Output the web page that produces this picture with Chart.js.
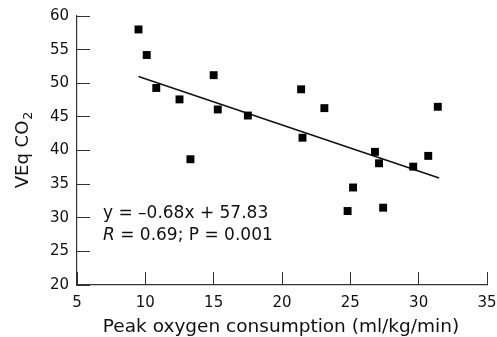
<!DOCTYPE html>
<html>
<head>
<meta charset="utf-8">
<script src="https://cdn.jsdelivr.net/npm/chart.js@4/dist/chart.umd.min.js"></script>
<style>
  html, body { margin: 0; padding: 0; background: #fff; }
  #wrap { width: 497px; height: 337px; }
</style>
</head>
<body>
<div id="wrap"><canvas id="chart" width="497" height="337"></canvas></div>
<script>
// ── Data ──────────────────────────────────────────────
const peakVO2 = [9.5, 10.1, 10.8, 12.5, 13.3, 15.0, 15.3, 17.5, 21.4, 21.5,
                 23.1, 24.8, 25.2, 26.8, 27.1, 27.4, 29.6, 30.7, 31.4]
const veqCO2  = [58.0, 54.2, 49.3, 47.6, 38.7, 51.2, 46.1, 45.2, 49.1, 41.9,
                 46.3, 31.0, 34.5, 39.8, 38.1, 31.5, 37.6, 39.2, 46.5]

const fitX = [9.5, 31.5]
const fitY = [51.0, 35.9]

const xTicks = [5, 10, 15, 20, 25, 30, 35]
const yTicks = [20, 25, 30, 35, 40, 45, 50, 55, 60]

const X_TITLE = 'Peak oxygen consumption (ml/kg/min)'
const FONT = '"DejaVu Sans", sans-serif'
const AXIS = '#333'
const INK = '#111'

// ── Custom text (y title with subscript, x title, regression note) ─
const extraText = {
  id: 'extraText',
  afterDraw(chart) {
    const ctx = chart.ctx
    const x = chart.scales.x, y = chart.scales.y
    const area = chart.chartArea

    // x axis title
    ctx.save()
    ctx.fillStyle = INK
    ctx.font = '18.5px ' + FONT
    ctx.textAlign = 'center'
    ctx.textBaseline = 'middle'
    ctx.fillText(X_TITLE, 281, 327)
    ctx.restore()

    // y axis title
    ctx.save()
    ctx.fillStyle = INK
    ctx.translate(23, (area.top + area.bottom) / 2)
    ctx.rotate(-Math.PI / 2)
    const main = 'VEq CO'
    ctx.font = '18px ' + FONT
    const w1 = ctx.measureText(main).width
    ctx.font = '12.5px ' + FONT
    const w2 = ctx.measureText('2').width
    const start = -(w1 + w2) / 2
    ctx.textBaseline = 'middle'
    ctx.textAlign = 'left'
    ctx.font = '18px ' + FONT
    ctx.fillText(main, start, 0)
    ctx.font = '12.5px ' + FONT
    ctx.fillText('2', start + w1 + 1, 6)
    ctx.restore()

    // regression note
    ctx.save()
    ctx.fillStyle = INK
    ctx.textBaseline = 'middle'
    ctx.textAlign = 'left'
    const tx = x.getPixelForValue(6.9)
    ctx.font = '17px ' + FONT
    ctx.fillText('y = \u20130.68x + 57.83', tx, y.getPixelForValue(30.6))
    const ly = y.getPixelForValue(27.4)
    ctx.font = 'italic 17px ' + FONT
    ctx.fillText('R', tx, ly)
    const rw = ctx.measureText('R').width
    ctx.font = '17px ' + FONT
    ctx.fillText(' = 0.69; P = 0.001', tx + rw, ly)
    ctx.restore()
  }
}

// ── Chart ─────────────────────────────────────────────
new Chart(document.getElementById('chart').getContext('2d'), {
  type: 'scatter',
  data: {
    datasets: [
      {
        label: 'patients',
        data: peakVO2.map((v, i) => ({ x: v, y: veqCO2[i] })),
        pointStyle: 'rect',
        pointRadius: 5.6,
        pointHoverRadius: 5.6,
        backgroundColor: '#000',
        borderColor: '#000',
        borderWidth: 0
      },
      {
        label: 'fit',
        data: fitX.map((v, i) => ({ x: v, y: fitY[i] })),
        showLine: true,
        pointRadius: 0,
        borderColor: INK,
        borderWidth: 1.5
      }
    ]
  },
  options: {
    responsive: false,
    animation: false,
    events: [],
    layout: { padding: { left: 0, right: 10, top: 16, bottom: 0 } },
    plugins: { legend: { display: false }, tooltip: { enabled: false } },
    scales: {
      x: {
        type: 'linear',
        min: 5, max: 35,
        afterBuildTicks: s => { s.ticks = xTicks.map(v => ({ value: v })) },
        afterFit: s => { s.height = 52; s.paddingLeft = 0; s.paddingRight = 0 },
        grid: { drawOnChartArea: false, drawTicks: true, tickLength: -13, color: AXIS, lineWidth: 1 },
        border: { color: AXIS, width: 1.2 },
        ticks: { color: INK, padding: 22, font: { family: FONT, size: 15 }, maxRotation: 0 }
      },
      y: {
        type: 'linear',
        min: 20, max: 60,
        afterBuildTicks: s => { s.ticks = yTicks.map(v => ({ value: v })) },
        afterFit: s => { s.width = 77; s.paddingTop = 0; s.paddingBottom = 0 },
        grid: { drawOnChartArea: false, drawTicks: true, tickLength: -13, color: AXIS, lineWidth: 1 },
        border: { color: AXIS, width: 1.2 },
        ticks: { color: INK, padding: 21, font: { family: FONT, size: 15 } }
      }
    }
  },
  plugins: [extraText]
})
</script>
</body>
</html>
